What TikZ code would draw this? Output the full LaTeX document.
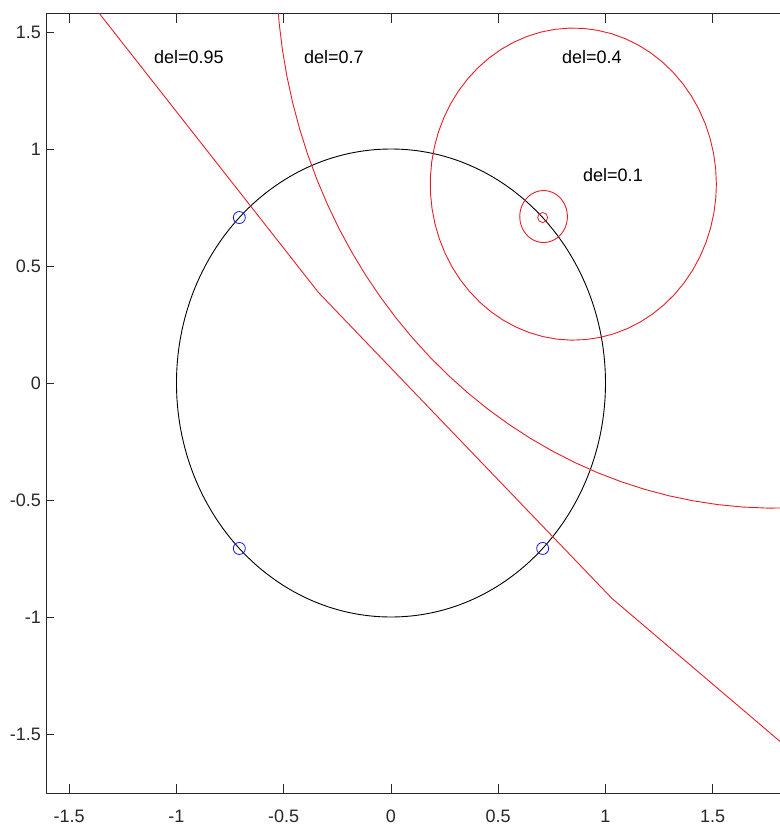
\documentclass[tikz,border=0pt]{standalone}
\usepackage{fontspec}
\setmainfont{Liberation Sans}
\definecolor{mred}{RGB}{228,30,38}
\definecolor{mblue}{RGB}{25,25,220}
\definecolor{axcol}{RGB}{40,40,40}
\begin{document}
\begin{tikzpicture}[x=214.5pt,y=234pt,
  curve/.style={mred,line width=0.9pt,line join=round},
  unitc/.style={black,line width=0.9pt},
  axisline/.style={axcol,line width=1pt},
  tickmark/.style={axcol,line width=0.8pt},
  ticklbl/.style={font=\fontsize{18}{20}\selectfont,text=axcol,inner sep=0pt},
  dellbl/.style={font=\fontsize{18}{20}\selectfont,text=black,inner sep=0pt},
  marker/.style={circle,draw=mblue,line width=0.8pt,minimum size=12pt,inner sep=0pt}]
\useasboundingbox (-1.8228,-1.8889) rectangle (1.8135,1.6368);
% axes frame (right side is outside the picture)
\coordinate (bl) at (-1.6037,-1.7564);
\coordinate (tl) at (-1.6037,1.5812);
\coordinate (tr) at (1.8135,1.5812);
\coordinate (br) at (1.8135,-1.7564);
\draw[axisline] (br) -- (bl) -- (tl) -- (tr);
% ticks
\foreach \v/\n in {-1.5/a,-1/b,-0.5/c,0/d,0.5/e,1/f,1.5/g}{
  \draw[tickmark] (\v,-1.7564) -- ++(0,0.043);
  \draw[tickmark] (\v,1.5812) -- ++(0,-0.043);
  \draw[tickmark] (-1.6037,\v) -- ++(0.033,0);
  \node[ticklbl] (xl\n) at (\v,-1.8504) {\v};
  \node[ticklbl,anchor=east] (yl\n) at (-1.6317,\v) {\v};
}
% curves
\begin{scope}
  \clip (bl) rectangle (tr);
  \draw[unitc] (0,0) circle [radius=1];
  \draw[curve] plot[domain=3.7:4.2,samples=6,variable=\t]
     ({13.4+18.924*cos(\t r)},{13.4+18.924*sin(\t r)});
  \draw[curve] plot[domain=0:6.25,samples=126,variable=\t]
     ({1.789+2.324*cos(\t r)},{1.789+2.324*sin(\t r)}) -- cycle;
  \draw[curve] plot[domain=0:6.2,samples=63,variable=\t]
     ({0.85+0.667*cos(\t r)},{0.85+0.667*sin(\t r)}) -- cycle;
  \draw[curve] plot[domain=0:6.2,samples=63,variable=\t]
     ({0.7114+0.111*cos(\t r)},{0.7114+0.111*sin(\t r)}) -- cycle;
\end{scope}
% markers
\node[marker] (m1) at (-0.7071,0.7071) {};
\node[marker] (m2) at (-0.7071,-0.7071) {};
\node[marker] (m3) at (0.7071,-0.7071) {};
\node[circle,draw=mred,line width=0.8pt,minimum size=10pt,inner sep=0pt] (m4) at (0.7071,0.7071) {};
% labels
\node[dellbl] (d95) at (-0.942,1.393) {del=0.95};
\node[dellbl] (d70) at (-0.266,1.393) {del=0.7};
\node[dellbl] (d40) at (0.937,1.393) {del=0.4};
\node[dellbl] (d10) at (1.035,0.889) {del=0.1};
\end{tikzpicture}
\end{document}
